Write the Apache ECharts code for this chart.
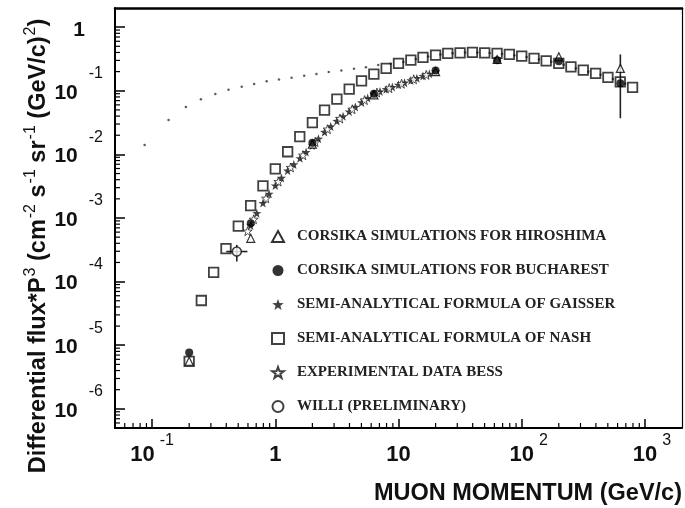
<!DOCTYPE html>
<html>
<head>
<meta charset="utf-8">
<script src="https://cdn.jsdelivr.net/npm/echarts@6/dist/echarts.min.js"></script>
<style>
  html, body { margin: 0; padding: 0; background: #fff; }
  #chart { width: 685px; height: 508px; }
</style>
</head>
<body>
<div id="chart"></div>
<script>
// values: momentum in GeV/c, flux*p^3 in cm^-2 s^-1 sr^-1 (GeV/c)^2

// semi-analytical formula of Nash (open squares)
const nashP = [0.2, 0.251, 0.316, 0.398, 0.501, 0.631, 0.794, 1.0, 1.26, 1.58, 2.0, 2.51, 3.16,
  3.98, 5.01, 6.31, 7.94, 10, 12.6, 15.8, 20, 25.1, 31.6, 39.8, 50.1, 63.1, 79.4, 100, 126,
  158, 200, 251, 316, 398, 501, 631, 794];
const nashFlux = [5.57e-6, 5.05e-5, 1.40e-4, 3.30e-4, 7.43e-4, 1.567e-3, 3.19e-3, 5.90e-3,
  1.10e-2, 1.90e-2, 3.15e-2, 4.98e-2, 7.41e-2, 0.1064, 0.1435, 0.1828, 0.2249, 0.2692, 0.303,
  0.334, 0.363, 0.386, 0.395, 0.401, 0.395, 0.386, 0.372, 0.351, 0.323, 0.296, 0.269, 0.238,
  0.211, 0.1875, 0.162, 0.138, 0.113];

// dotted curve (no legend entry)
const dotP = [0.087, 0.136, 0.188, 0.249, 0.326, 0.417, 0.534, 0.673, 0.851, 1.071, 1.355,
  1.716, 2.157, 2.717, 3.436, 4.35, 5.44, 6.85, 8.63, 10.96, 13.8, 17.4, 21.9, 27.5, 34.7,
  43.7, 55.0, 69.2, 87.1, 109.6, 138, 174, 219, 275, 347, 437, 550, 692];
const dotFlux = [0.0141, 0.0347, 0.0555, 0.0733, 0.0887, 0.1037, 0.1156, 0.1274, 0.1406,
  0.151, 0.160, 0.172, 0.183, 0.197, 0.209, 0.221, 0.235, 0.253, 0.266, 0.282, 0.316, 0.347,
  0.372, 0.389, 0.398, 0.398, 0.394, 0.380, 0.363, 0.339, 0.313, 0.285, 0.257, 0.226, 0.1995,
  0.178, 0.153, 0.129];

// semi-analytical formula of Gaisser (filled stars)
const gaisserP = [0.631, 0.708, 0.794, 0.891, 1.0, 1.122, 1.259, 1.413, 1.585, 1.778, 1.995,
  2.239, 2.512, 2.818, 3.162, 3.548, 3.981, 4.467, 5.012, 5.623, 6.31, 7.08, 7.94, 8.91, 10,
  11.2, 12.6, 14.1, 15.8, 17.8, 20.0];
const gaisserFlux = [7.64e-4, 1.19e-3, 1.72e-3, 2.40e-3, 3.24e-3, 4.27e-3, 5.55e-3, 6.95e-3,
  8.69e-3, 1.086e-2, 1.377e-2, 1.762e-2, 2.249e-2, 2.748e-2, 3.35e-2, 3.97e-2, 4.70e-2,
  5.56e-2, 6.56e-2, 7.69e-2, 8.93e-2, 9.75e-2, 0.1057, 0.1143, 0.1239, 0.134, 0.1455, 0.1578,
  0.171, 0.185, 0.2004];

// experimental data BESS (open stars)
const bessP = [0.596, 0.668, 0.841, 1.059, 1.334, 1.679, 2.113, 2.661, 3.35, 4.217, 5.31,
  6.68, 8.41, 10.59, 13.3, 16.8];
const bessFlux = [6.2e-4, 9.55e-4, 2.04e-3, 3.74e-3, 6.22e-3, 9.72e-3, 1.56e-2, 2.49e-2,
  3.66e-2, 5.12e-2, 7.14e-2, 9.38e-2, 0.1099, 0.129, 0.1514, 0.178];

// CORSIKA Hiroshima (open triangles)
const hiroP = [0.2, 0.632, 2.0, 6.32, 20, 63.2, 200, 632];
const hiroFlux = [5.6e-6, 4.8e-4, 1.45e-2, 8.6e-2, 0.2, 0.31, 0.342, 0.225];

// CORSIKA Bucharest (filled circles)
const buchP = [0.2, 0.632, 2.0, 6.32, 20, 63.2, 200, 632];
const buchFlux = [7.7e-6, 8.3e-4, 1.53e-2, 9.0e-2, 0.208, 0.303, 0.292, 0.131];

// WILLI (open circle)
const williP = [0.487];
const williFlux = [2.97e-4];

// error bars: [p, flux, pLow, pHigh, fluxLow, fluxHigh]
const errorBars = [
  [632, 0.225, 632, 632, 0.037, 0.372],
  [0.487, 2.97e-4, 0.40, 0.594, 2.07e-4, 3.78e-4]
];

const xMin = 0.05, xMax = 2000;
const yMin = 5e-7, yMax = 2;

const legendNames = [
  'CORSIKA SIMULATIONS FOR HIROSHIMA',
  'CORSIKA SIMULATIONS FOR BUCHAREST',
  'SEMI-ANALYTICAL FORMULA OF GAISSER',
  'SEMI-ANALYTICAL FORMULA OF NASH',
  'EXPERIMENTAL DATA BESS',
  'WILLI (PRELIMINARY)'
];

const starPath = 'path://M0,-10L2.351,-3.236L9.511,-3.09L3.804,1.236L5.878,8.09L0,4L-5.878,8.09L-3.804,1.236L-9.511,-3.09L-2.351,-3.236Z';

function zip (xs, ys) {
  return xs.map((x, i) => [x, ys[i]])
}

// minor tick values 2..9 x 10^k inside an extent
function minorTicks (lo, hi) {
  let out = []
  for (let k = -8; k <= 4; k++) {
    for (let m = 2; m <= 9; m++) {
      let v = m * Math.pow(10, k)
      if (v > lo * 1.0001 && v < hi * 0.9999) out.push(v)
    }
  }
  return out
}

function decade (v) {
  let l = Math.log10(v)
  let e = Math.round(l)
  return Math.abs(l - e) < 1e-6 ? e : null
}

const xLabel = (v) => {
  let e = decade(v)
  if (e === null) return ''
  if (e === 0) return '{one|1}'
  if (e === 1) return '{b|10}'
  if (e >= 2) return '{bp|10}{e|' + e + '}'
  return '{b|10}{e|' + e + '}'
}

const yLabel = (v) => {
  let e = decade(v)
  if (e === null) return ''
  if (e === 0) return '{one|1}'
  return '{b|10}{e|' + e + '}'
}

const chart = echarts.init(document.getElementById('chart'))

const openStyle = { color: '#fff', borderColor: '#000', borderWidth: 1.2 }

const option = {
  animation: false,
  backgroundColor: '#fff',
  grid: { left: 115, top: 8, right: 2, bottom: 80, show: false },
  legend: {
    data: legendNames,
    orient: 'vertical',
    left: 266,
    top: 224,
    itemWidth: 12,
    itemHeight: 11,
    itemGap: 19,
    formatter: (name) => '{t|' + name + '}',
    textStyle: {
      rich: {
        t: {
          fontFamily: 'Liberation Serif',
          fontWeight: 'bold',
          fontSize: 15,
          lineHeight: 16,
          color: '#222',
          padding: [0, 0, 0, 8]
        }
      }
    }
  },
  xAxis: [{
    type: 'log',
    logBase: 10,
    min: xMin,
    max: xMax,
    splitNumber: 5,
    position: 'bottom',
    name: 'MUON MOMENTUM (GeV/c)',
    nameLocation: 'end',
    nameGap: 0,
    nameMoveOverlap: false,
    nameTextStyle: {
      fontFamily: 'Liberation Sans',
      fontWeight: 'bold',
      fontSize: 23.5,
      color: '#111',
      align: 'right',
      verticalAlign: 'top',
      padding: [54, 0, 0, 0]
    },
    axisLine: { lineStyle: { color: '#000', width: 2 } },
    axisTick: { inside: true, length: 9, lineStyle: { color: '#000', width: 1.5 } },
    splitLine: { show: false },
    axisLabel: {
      margin: 9,
      formatter: xLabel,
      showMinLabel: false,
      showMaxLabel: false,
      rich: {
        one: { fontFamily: 'Liberation Sans', fontWeight: 'bold', fontSize: 22, lineHeight: 22, color: '#111', padding: [14, 0, 0, 0] },
        b: { fontFamily: 'Liberation Sans', fontWeight: 'bold', fontSize: 22, lineHeight: 22, color: '#111', padding: [14, 0, 0, 0] },
        bp: { fontFamily: 'Liberation Sans', fontWeight: 'bold', fontSize: 22, lineHeight: 22, color: '#111', padding: [14, 0, 0, 14] },
        e: { fontFamily: 'Liberation Sans', fontSize: 16, lineHeight: 16, color: '#111', padding: [0, 0, 14, 5] }
      }
    }
  }, {
    type: 'log',
    min: xMin,
    max: xMax,
    position: 'top',
    axisLine: { lineStyle: { color: '#000', width: 2.5 } },
    axisTick: { show: false },
    axisLabel: { show: false },
    splitLine: { show: false }
  }],
  yAxis: [{
    type: 'log',
    logBase: 10,
    min: yMin,
    max: yMax,
    splitNumber: 5,
    position: 'left',
    name: '{t|Differential flux*P}{s|3}{t| (cm}{s|-2}{t| s}{s|-1}{t| sr}{s|-1}{t| (GeV/c)}{s|2}{t|)}',
    nameLocation: 'middle',
    nameRotate: 90,
    nameGap: 64,
    nameMoveOverlap: false,
    nameTextStyle: {
      padding: [0, 56, 0, 0],
      rich: {
        t: { fontFamily: 'Liberation Sans', fontWeight: 'bold', fontSize: 23.5, lineHeight: 25, color: '#111' },
        s: { fontFamily: 'Liberation Sans', fontSize: 16, lineHeight: 15, color: '#111', padding: [0, 0, 15, 1] }
      }
    },
    axisLine: { lineStyle: { color: '#000', width: 2 } },
    axisTick: { inside: true, length: 10, lineStyle: { color: '#000', width: 1.5 } },
    splitLine: { show: false },
    axisLabel: {
      margin: 12,
      formatter: yLabel,
      showMinLabel: false,
      showMaxLabel: false,
      rich: {
        one: { fontFamily: 'Liberation Sans', fontWeight: 'bold', fontSize: 21, lineHeight: 21, color: '#111', padding: [6, 18, 0, 0] },
        b: { fontFamily: 'Liberation Sans', fontWeight: 'bold', fontSize: 21, lineHeight: 21, color: '#111', padding: [4, 0, 0, 0] },
        e: { fontFamily: 'Liberation Sans', fontSize: 16, lineHeight: 16, color: '#111', padding: [0, 0, 34, 11] }
      }
    }
  }, {
    type: 'log',
    min: yMin,
    max: yMax,
    position: 'right',
    axisLine: { lineStyle: { color: '#000', width: 1.2 } },
    axisTick: { show: false },
    axisLabel: { show: false },
    splitLine: { show: false }
  }],
  series: [
    {
      type: 'custom',
      name: 'xminor',
      silent: true,
      data: minorTicks(xMin, xMax).map((v) => [v, 1e-3]),
      encode: { x: 0, y: 1 },
      renderItem: (params, api) => {
        let cs = params.coordSys
        let px = api.coord([api.value(0), 1e-3])[0]
        let bottom = cs.y + cs.height
        return { type: 'line', shape: { x1: px, y1: bottom, x2: px, y2: bottom - 5 }, style: { stroke: '#000', lineWidth: 1.2 } }
      }
    },
    {
      type: 'custom',
      name: 'yminor',
      silent: true,
      data: minorTicks(yMin, yMax).map((v) => [1, v]),
      encode: { x: 0, y: 1 },
      renderItem: (params, api) => {
        let cs = params.coordSys
        let py = api.coord([1, api.value(1)])[1]
        return { type: 'line', shape: { x1: cs.x, y1: py, x2: cs.x + 5, y2: py }, style: { stroke: '#000', lineWidth: 1.2 } }
      }
    },
    {
      type: 'custom',
      name: 'errors',
      silent: true,
      data: errorBars,
      encode: { x: 0, y: 1 },
      z: 1,
      renderItem: (params, api) => {
        let x = api.value(0), y = api.value(1)
        let kids = []
        if (api.value(3) > api.value(2)) {
          let a = api.coord([api.value(2), y]), b = api.coord([api.value(3), y])
          kids.push({ type: 'line', shape: { x1: a[0], y1: a[1], x2: b[0], y2: b[1] }, style: { stroke: '#222', lineWidth: 1.6 } })
        }
        let c = api.coord([x, api.value(4)]), d = api.coord([x, api.value(5)])
        kids.push({ type: 'line', shape: { x1: c[0], y1: c[1], x2: d[0], y2: d[1] }, style: { stroke: '#222', lineWidth: 1.6 } })
        return { type: 'group', children: kids }
      }
    },
    {
      type: 'scatter',
      name: 'dots',
      data: zip(dotP, dotFlux),
      symbol: 'circle',
      symbolSize: 2.5,
      itemStyle: { color: '#333' }
    },
    {
      type: 'scatter',
      name: legendNames[3],
      data: zip(nashP, nashFlux),
      symbol: 'rect',
      symbolSize: 9.5,
      itemStyle: { color: 'transparent', borderColor: '#111', borderWidth: 1.8 }
    },
    {
      type: 'scatter',
      name: legendNames[2],
      data: zip(gaisserP, gaisserFlux),
      symbol: starPath,
      symbolSize: 9,
      itemStyle: { color: '#111' }
    },
    {
      type: 'scatter',
      name: legendNames[4],
      data: zip(bessP, bessFlux),
      symbol: starPath,
      symbolSize: 9,
      itemStyle: { color: '#fff', borderColor: '#111', borderWidth: 0.9 }
    },
    {
      type: 'scatter',
      name: legendNames[0],
      data: zip(hiroP, hiroFlux),
      symbol: 'triangle',
      symbolSize: 8,
      itemStyle: openStyle
    },
    {
      type: 'scatter',
      name: legendNames[1],
      data: zip(buchP, buchFlux),
      symbol: 'circle',
      symbolSize: 8,
      itemStyle: { color: '#000' }
    },
    {
      type: 'scatter',
      name: legendNames[5],
      data: zip(williP, williFlux),
      symbol: 'circle',
      symbolSize: 9,
      itemStyle: { color: '#fff', borderColor: '#111', borderWidth: 1.5 }
    }
  ]
}

chart.setOption(option)
</script>
</body>
</html>
